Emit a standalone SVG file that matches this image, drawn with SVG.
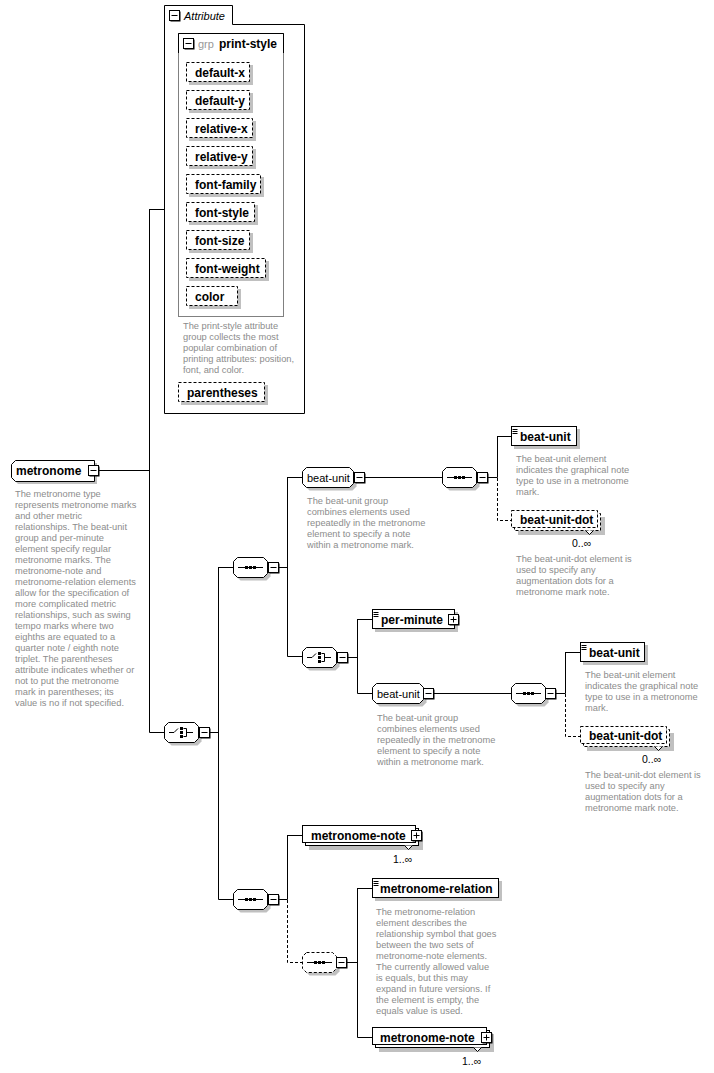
<svg xmlns="http://www.w3.org/2000/svg" xmlns:xlink="http://www.w3.org/1999/xlink" width="714" height="1073" viewBox="0 0 714 1073">
<style>
.ln{fill:none;stroke:#000;stroke-width:1}
.dl{fill:none;stroke:#000;stroke-width:1;stroke-dasharray:3 2}
.box{fill:#fff;stroke:#000;stroke-width:1}
.dbox{fill:#fff;stroke:#000;stroke-width:1;stroke-dasharray:3 2}
.sh{fill:#c0c0c0;stroke:none}
.lbl{font-family:"Liberation Sans",Arial,sans-serif;font-size:12px;font-weight:bold;fill:#000}
.glbl{font-family:"Liberation Sans",Arial,sans-serif;font-size:11px;fill:#000}
.desc{font-family:"Liberation Sans",Arial,sans-serif;font-size:9.3px;fill:#8c8c8c}
.occ{font-family:"Liberation Sans",Arial,sans-serif;font-size:10.5px;fill:#000}
</style>
<defs>
<g id="mn"><rect x="1.5" y="1.5" width="10" height="10" fill="#000"/><rect x="0.5" y="0.5" width="10" height="10" fill="#fff" stroke="#000"/><path d="M2.5 5.5H8.5" stroke="#000"/></g>
<g id="pl"><rect x="1.5" y="1.5" width="10" height="10" fill="#000"/><rect x="0.5" y="0.5" width="10" height="10" fill="#fff" stroke="#000"/><path d="M2.5 5.5H8.5M5.5 2.5V8.5" stroke="#000"/></g>
<path id="oct" d="M4.5 0.5H30.5L34.5 4.5V16.5L30.5 20.5H4.5L0.5 16.5V4.5Z"/>
<path id="goct" d="M4.5 0.5H47.5L51.5 4.5V16.5L47.5 20.5H4.5L0.5 16.5V4.5Z"/>
<g id="si"><path d="M5 10.5H30" stroke="#000"/><rect x="12" y="9" width="3" height="3" fill="#000"/><rect x="16" y="9" width="3" height="3" fill="#000"/><rect x="20" y="9" width="3" height="3" fill="#000"/></g>
<g id="ci"><path d="M5 10.5H10L14 6.5" fill="none" stroke="#000"/><rect x="16" y="5" width="3" height="3" fill="#000"/><rect x="16" y="9" width="3" height="3" fill="#000"/><rect x="16" y="13" width="3" height="3" fill="#000"/><path d="M19.5 6.5H22.5V14.5H19.5M22.5 10.5H29" fill="none" stroke="#000"/></g>
<g id="ei"><path d="M1.5 2.5H6.5M1.5 4.5H6.5M1.5 6.5H6.5" stroke="#000"/></g>
</defs>
<rect width="714" height="1073" fill="#fff"/>

<g id="connectors">
<path class="ln" d="M149.5 209.5H164.5M99 470.5H149.5M149.5 209V732.5M149.5 732.5H164"/>
<path class="ln" d="M209 732.5H218.5M218.5 567V899.5M218.5 567.5H233M218.5 899.5H233"/>
<path class="ln" d="M278 567.5H287.5M287.5 477V656.5M287.5 477.5H302M287.5 656.5H302"/>
<path class="ln" d="M364 477.5H442M487 477.5H497.5M497.5 436V477.5M497.5 436.5H511"/>
<path class="dl" d="M497.5 478V520.5H511"/>
<path class="ln" d="M347 657.5H357.5M357.5 619V693.5M357.5 619.5H372M357.5 693.5H372"/>
<path class="ln" d="M433 693.5H511M555 693.5H565.5M565.5 652V693.5M565.5 652.5H580"/>
<path class="dl" d="M565.5 694V736.5H580"/>
<path class="ln" d="M278 899.5H287.5M287.5 835V899.5M287.5 835.5H302"/>
<path class="dl" d="M287.5 900V962.5H302"/>
<path class="ln" d="M346 962.5H357.5M357.5 888V1037.5M357.5 888.5H372M357.5 1037.5H372"/>
</g>

<g id="attributes">
<path class="ln" d="M164.5 5.5H232.5V24.5H304.5V413.5H164.5Z" fill="#fff"/>
<use href="#mn" x="169" y="10"/>
<text x="184" y="19.5" style="font-family:'Liberation Sans',Arial,sans-serif;font-size:11px;font-style:italic">Attribute</text>
</g>

<g id="grp-print-style">
<rect x="178.5" y="33.5" width="105" height="283" fill="none" stroke="#808080"/>
<path class="ln" d="M178.5 53V33.5H283.5V53"/>
<use href="#mn" x="183" y="38"/>
<text x="198" y="47.5" style="font-family:'Liberation Sans',Arial,sans-serif;font-size:11px;fill:#999">grp</text>
<text x="219" y="48" class="lbl">print-style</text>
<text class="desc"><tspan x="183" y="328.5">The print-style attribute</tspan><tspan x="183" y="339.5">group collects the most</tspan><tspan x="183" y="350.5">popular combination of</tspan><tspan x="183" y="361.5">printing attributes: position,</tspan><tspan x="183" y="372.5">font, and color.</tspan></text>
</g>

<g id="attr-default-x"><rect class="sh" x="189" y="65" width="64" height="20"/><rect class="dbox" x="186.5" y="62.5" width="63" height="19"/><text x="195" y="76.5" class="lbl">default-x</text></g>
<g id="attr-default-y"><rect class="sh" x="189" y="93" width="64" height="20"/><rect class="dbox" x="186.5" y="90.5" width="63" height="19"/><text x="195" y="104.5" class="lbl">default-y</text></g>
<g id="attr-relative-x"><rect class="sh" x="189" y="121" width="67" height="20"/><rect class="dbox" x="186.5" y="118.5" width="66" height="19"/><text x="195" y="132.5" class="lbl">relative-x</text></g>
<g id="attr-relative-y"><rect class="sh" x="189" y="149" width="67" height="20"/><rect class="dbox" x="186.5" y="146.5" width="66" height="19"/><text x="195" y="160.5" class="lbl">relative-y</text></g>
<g id="attr-font-family"><rect class="sh" x="189" y="177" width="75" height="20"/><rect class="dbox" x="186.5" y="174.5" width="74" height="19"/><text x="195" y="188.5" class="lbl">font-family</text></g>
<g id="attr-font-style"><rect class="sh" x="189" y="205" width="69" height="20"/><rect class="dbox" x="186.5" y="202.5" width="68" height="19"/><text x="195" y="216.5" class="lbl">font-style</text></g>
<g id="attr-font-size"><rect class="sh" x="189" y="233" width="64" height="20"/><rect class="dbox" x="186.5" y="230.5" width="63" height="19"/><text x="195" y="244.5" class="lbl">font-size</text></g>
<g id="attr-font-weight"><rect class="sh" x="189" y="261" width="80" height="20"/><rect class="dbox" x="186.5" y="258.5" width="79" height="19"/><text x="195" y="272.5" class="lbl">font-weight</text></g>
<g id="attr-color"><rect class="sh" x="189" y="289" width="52" height="20"/><rect class="dbox" x="186.5" y="286.5" width="51" height="19"/><text x="195" y="300.5" class="lbl">color</text></g>
<g id="attr-parentheses"><rect class="sh" x="181" y="385" width="87" height="20"/><rect class="dbox" x="178.5" y="382.5" width="86" height="19"/><text x="187" y="396.5" class="lbl">parentheses</text></g>

<g id="metronome">
<path class="sh" d="M18 463H97V484H18L14 480V467Z"/>
<path class="box" d="M15.5 460.5H94.5V481.5H15.5L11.5 477.5V464.5Z"/>
<text x="16" y="474.5" class="lbl">metronome</text>
<use href="#mn" x="88" y="465"/>
<text class="desc"><tspan x="15" y="496.5">The metronome type</tspan><tspan x="15" y="507.5">represents metronome marks</tspan><tspan x="15" y="518.5">and other metric</tspan><tspan x="15" y="529.5">relationships. The beat-unit</tspan><tspan x="15" y="540.5">group and per-minute</tspan><tspan x="15" y="551.5">element specify regular</tspan><tspan x="15" y="562.5">metronome marks. The</tspan><tspan x="15" y="573.5">metronome-note and</tspan><tspan x="15" y="584.5">metronome-relation elements</tspan><tspan x="15" y="595.5">allow for the specification of</tspan><tspan x="15" y="606.5">more complicated metric</tspan><tspan x="15" y="617.5">relationships, such as swing</tspan><tspan x="15" y="628.5">tempo marks where two</tspan><tspan x="15" y="639.5">eighths are equated to a</tspan><tspan x="15" y="650.5">quarter note / eighth note</tspan><tspan x="15" y="661.5">triplet. The parentheses</tspan><tspan x="15" y="672.5">attribute indicates whether or</tspan><tspan x="15" y="683.5">not to put the metronome</tspan><tspan x="15" y="694.5">mark in parentheses; its</tspan><tspan x="15" y="705.5">value is no if not specified.</tspan></text>
</g>

<g id="choice-1">
<use href="#oct" class="sh" x="167" y="725"/>
<use href="#oct" class="box" x="164" y="722"/>
<use href="#ci" x="164" y="722"/>
<use href="#mn" x="199" y="727"/>
</g>

<g id="sequence-1">
<use href="#oct" class="sh" x="236" y="560"/>
<use href="#oct" class="box" x="233" y="557"/>
<use href="#si" x="233" y="557"/>
<use href="#mn" x="268" y="562"/>
</g>

<g id="group-beat-unit-1">
<use href="#goct" class="sh" x="305" y="470"/>
<use href="#goct" class="box" x="302" y="467"/>
<text x="307" y="481.5" class="glbl">beat-unit</text>
<use href="#mn" x="354" y="472"/>
<text class="desc"><tspan x="307" y="503.5">The beat-unit group</tspan><tspan x="307" y="514.5">combines elements used</tspan><tspan x="307" y="525.5">repeatedly in the metronome</tspan><tspan x="307" y="536.5">element to specify a note</tspan><tspan x="307" y="547.5">within a metronome mark.</tspan></text>
</g>

<g id="sequence-2">
<use href="#oct" class="sh" x="445" y="470"/>
<use href="#oct" class="box" x="442" y="467"/>
<use href="#si" x="442" y="467"/>
<use href="#mn" x="477" y="472"/>
</g>

<g id="beat-unit-1">
<rect class="sh" x="514" y="429" width="66" height="20"/>
<rect class="box" x="511.5" y="426.5" width="65" height="19"/>
<use href="#ei" x="511" y="427"/>
<text x="520" y="440.5" class="lbl">beat-unit</text>
<text class="desc"><tspan x="516" y="461.5">The beat-unit element</tspan><tspan x="516" y="472.5">indicates the graphical note</tspan><tspan x="516" y="483.5">type to use in a metronome</tspan><tspan x="516" y="494.5">mark.</tspan></text>
</g>

<g id="beat-unit-dot-1">
<rect class="sh" x="518" y="517" width="87" height="18"/>
<rect class="dbox" x="514.5" y="513.5" width="86" height="17"/>
<rect class="dbox" x="511.5" y="510.5" width="86" height="17"/>
<text x="520" y="523.5" class="lbl">beat-unit-dot</text>
<path d="M585.5 530.5L589.5 534.5L593.5 530.5" fill="#fff" stroke="#000"/>
<text x="572" y="547" class="occ">0..∞</text>
<text class="desc"><tspan x="516" y="561.5">The beat-unit-dot element is</tspan><tspan x="516" y="572.5">used to specify any</tspan><tspan x="516" y="583.5">augmentation dots for a</tspan><tspan x="516" y="594.5">metronome mark note.</tspan></text>
</g>

<g id="choice-2">
<use href="#oct" class="sh" x="305" y="650"/>
<use href="#oct" class="box" x="302" y="647"/>
<use href="#ci" x="302" y="647"/>
<use href="#mn" x="337" y="652"/>
</g>

<g id="per-minute">
<rect class="sh" x="375" y="612" width="83" height="20"/>
<rect class="box" x="372.5" y="609.5" width="82" height="19"/>
<use href="#ei" x="372" y="610"/>
<text x="381" y="623.5" class="lbl">per-minute</text>
<use href="#pl" x="448" y="614"/>
</g>

<g id="group-beat-unit-2">
<use href="#goct" class="sh" x="375" y="686"/>
<use href="#goct" class="box" x="372" y="683"/>
<text x="377" y="697.5" class="glbl">beat-unit</text>
<use href="#mn" x="423" y="688"/>
<text class="desc"><tspan x="377" y="720.5">The beat-unit group</tspan><tspan x="377" y="731.5">combines elements used</tspan><tspan x="377" y="742.5">repeatedly in the metronome</tspan><tspan x="377" y="753.5">element to specify a note</tspan><tspan x="377" y="764.5">within a metronome mark.</tspan></text>
</g>

<g id="sequence-3">
<use href="#oct" class="sh" x="514" y="686"/>
<use href="#oct" class="box" x="511" y="683"/>
<use href="#si" x="511" y="683"/>
<use href="#mn" x="545" y="688"/>
</g>

<g id="beat-unit-2">
<rect class="sh" x="583" y="645" width="65" height="20"/>
<rect class="box" x="580.5" y="642.5" width="64" height="19"/>
<use href="#ei" x="580" y="643"/>
<text x="589" y="656.5" class="lbl">beat-unit</text>
<text class="desc"><tspan x="585" y="677.5">The beat-unit element</tspan><tspan x="585" y="688.5">indicates the graphical note</tspan><tspan x="585" y="699.5">type to use in a metronome</tspan><tspan x="585" y="710.5">mark.</tspan></text>
</g>

<g id="beat-unit-dot-2">
<rect class="sh" x="587" y="733" width="87" height="18"/>
<rect class="dbox" x="583.5" y="729.5" width="86" height="17"/>
<rect class="dbox" x="580.5" y="726.5" width="86" height="17"/>
<text x="589" y="739.5" class="lbl">beat-unit-dot</text>
<path d="M654.5 746.5L658.5 750.5L662.5 746.5" fill="#fff" stroke="#000"/>
<text x="642" y="763" class="occ">0..∞</text>
<text class="desc"><tspan x="585" y="777.5">The beat-unit-dot element is</tspan><tspan x="585" y="788.5">used to specify any</tspan><tspan x="585" y="799.5">augmentation dots for a</tspan><tspan x="585" y="810.5">metronome mark note.</tspan></text>
</g>

<g id="sequence-4">
<use href="#oct" class="sh" x="236" y="892"/>
<use href="#oct" class="box" x="233" y="889"/>
<use href="#si" x="233" y="889"/>
<use href="#mn" x="268" y="894"/>
</g>

<g id="metronome-note-1">
<rect class="sh" x="309" y="832" width="114" height="18"/>
<rect class="box" x="305.5" y="828.5" width="113" height="17"/>
<rect class="box" x="302.5" y="825.5" width="113" height="17"/>
<text x="311" y="839.5" class="lbl">metronome-note</text>
<use href="#pl" x="411" y="830"/>
<path d="M404.5 845.5L408.5 849.5L412.5 845.5" fill="#fff" stroke="#000"/>
<text x="393" y="863" class="occ">1..∞</text>
</g>

<g id="sequence-5">
<use href="#oct" class="sh" x="305" y="955"/>
<use href="#oct" class="dbox" x="302" y="952"/>
<use href="#si" x="302" y="952"/>
<use href="#mn" x="336" y="957"/>
</g>

<g id="metronome-relation">
<rect class="sh" x="375" y="881" width="127" height="20"/>
<rect class="box" x="372.5" y="878.5" width="126" height="19"/>
<use href="#ei" x="372" y="879"/>
<text x="380" y="892.5" class="lbl">metronome-relation</text>
<text class="desc"><tspan x="376" y="914.5">The metronome-relation</tspan><tspan x="376" y="925.5">element describes the</tspan><tspan x="376" y="936.5">relationship symbol that goes</tspan><tspan x="376" y="947.5">between the two sets of</tspan><tspan x="376" y="958.5">metronome-note elements.</tspan><tspan x="376" y="969.5">The currently allowed value</tspan><tspan x="376" y="980.5">is equals, but this may</tspan><tspan x="376" y="991.5">expand in future versions. If</tspan><tspan x="376" y="1002.5">the element is empty, the</tspan><tspan x="376" y="1013.5">equals value is used.</tspan></text>
</g>

<g id="metronome-note-2">
<rect class="sh" x="379" y="1034" width="115" height="18"/>
<rect class="box" x="375.5" y="1030.5" width="114" height="17"/>
<rect class="box" x="372.5" y="1027.5" width="114" height="17"/>
<text x="380" y="1041.5" class="lbl">metronome-note</text>
<use href="#pl" x="481" y="1032"/>
<path d="M473.5 1047.5L477.5 1051.5L481.5 1047.5" fill="#fff" stroke="#000"/>
<text x="462" y="1065" class="occ">1..∞</text>
</g>
</svg>
